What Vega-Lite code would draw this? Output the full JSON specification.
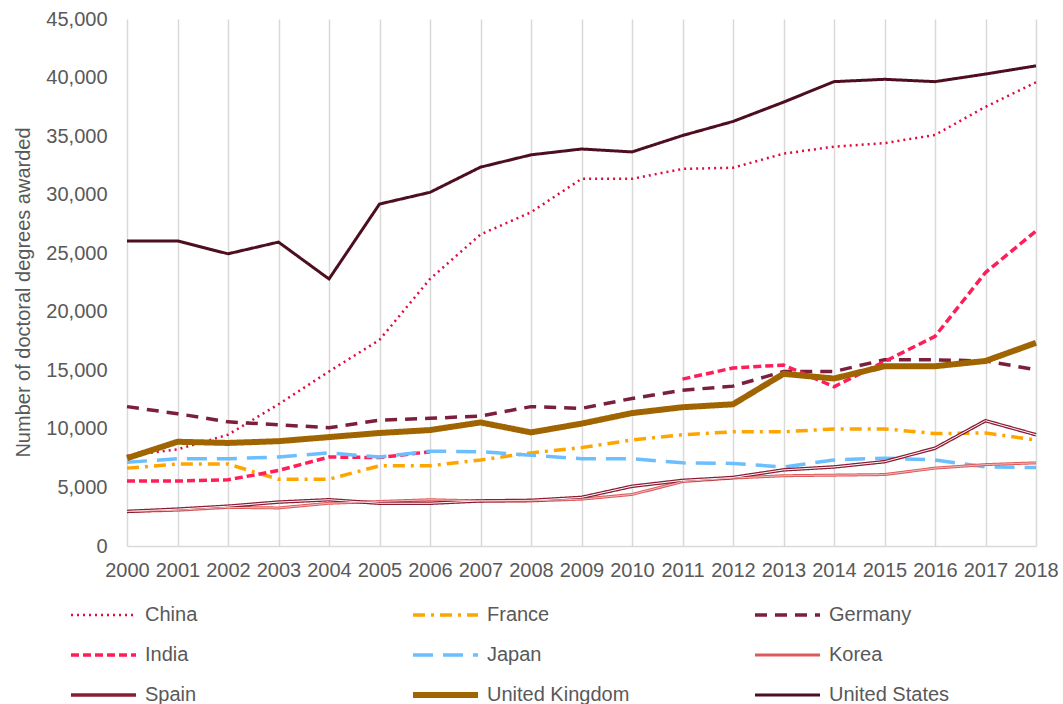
{
  "$schema": "https://vega.github.io/schema/vega-lite/v6.json",
  "autosize": {"type": "none"},
  "padding": {"left": 127, "top": 19, "right": 27, "bottom": 158},
  "width": 909,
  "height": 527,
  "background": "white",
  "config": {"font": "Liberation Sans", "view": {"stroke": null}},
  "data": {"values": [
    {"country": "China", "year": 2000, "doctorates": 7700},
    {"country": "China", "year": 2001, "doctorates": 8250},
    {"country": "China", "year": 2002, "doctorates": 9500},
    {"country": "China", "year": 2003, "doctorates": 12100},
    {"country": "China", "year": 2004, "doctorates": 14900},
    {"country": "China", "year": 2005, "doctorates": 17600},
    {"country": "China", "year": 2006, "doctorates": 22800},
    {"country": "China", "year": 2007, "doctorates": 26600},
    {"country": "China", "year": 2008, "doctorates": 28500},
    {"country": "China", "year": 2009, "doctorates": 31350},
    {"country": "China", "year": 2010, "doctorates": 31350},
    {"country": "China", "year": 2011, "doctorates": 32200},
    {"country": "China", "year": 2012, "doctorates": 32300},
    {"country": "China", "year": 2013, "doctorates": 33500},
    {"country": "China", "year": 2014, "doctorates": 34100},
    {"country": "China", "year": 2015, "doctorates": 34400},
    {"country": "China", "year": 2016, "doctorates": 35100},
    {"country": "China", "year": 2017, "doctorates": 37500},
    {"country": "China", "year": 2018, "doctorates": 39600},
    {"country": "France", "year": 2000, "doctorates": 6650},
    {"country": "France", "year": 2001, "doctorates": 7000},
    {"country": "France", "year": 2002, "doctorates": 7000},
    {"country": "France", "year": 2003, "doctorates": 5700},
    {"country": "France", "year": 2004, "doctorates": 5700},
    {"country": "France", "year": 2005, "doctorates": 6850},
    {"country": "France", "year": 2006, "doctorates": 6850},
    {"country": "France", "year": 2007, "doctorates": 7350},
    {"country": "France", "year": 2008, "doctorates": 7950},
    {"country": "France", "year": 2009, "doctorates": 8400},
    {"country": "France", "year": 2010, "doctorates": 9050},
    {"country": "France", "year": 2011, "doctorates": 9500},
    {"country": "France", "year": 2012, "doctorates": 9750},
    {"country": "France", "year": 2013, "doctorates": 9750},
    {"country": "France", "year": 2014, "doctorates": 10000},
    {"country": "France", "year": 2015, "doctorates": 10000},
    {"country": "France", "year": 2016, "doctorates": 9600},
    {"country": "France", "year": 2017, "doctorates": 9650},
    {"country": "France", "year": 2018, "doctorates": 9050},
    {"country": "Germany", "year": 2000, "doctorates": 11900},
    {"country": "Germany", "year": 2001, "doctorates": 11300},
    {"country": "Germany", "year": 2002, "doctorates": 10600},
    {"country": "Germany", "year": 2003, "doctorates": 10350},
    {"country": "Germany", "year": 2004, "doctorates": 10100},
    {"country": "Germany", "year": 2005, "doctorates": 10750},
    {"country": "Germany", "year": 2006, "doctorates": 10900},
    {"country": "Germany", "year": 2007, "doctorates": 11100},
    {"country": "Germany", "year": 2008, "doctorates": 11900},
    {"country": "Germany", "year": 2009, "doctorates": 11750},
    {"country": "Germany", "year": 2010, "doctorates": 12600},
    {"country": "Germany", "year": 2011, "doctorates": 13300},
    {"country": "Germany", "year": 2012, "doctorates": 13650},
    {"country": "Germany", "year": 2013, "doctorates": 14900},
    {"country": "Germany", "year": 2014, "doctorates": 14900},
    {"country": "Germany", "year": 2015, "doctorates": 15900},
    {"country": "Germany", "year": 2016, "doctorates": 15900},
    {"country": "Germany", "year": 2017, "doctorates": 15800},
    {"country": "Germany", "year": 2018, "doctorates": 15050},
    {"country": "India", "year": 2000, "doctorates": 5550},
    {"country": "India", "year": 2001, "doctorates": 5550},
    {"country": "India", "year": 2002, "doctorates": 5650},
    {"country": "India", "year": 2003, "doctorates": 6450},
    {"country": "India", "year": 2004, "doctorates": 7600},
    {"country": "India", "year": 2005, "doctorates": 7550},
    {"country": "India", "year": 2006, "doctorates": 8050},
    {"country": "India", "year": 2007, "doctorates": null},
    {"country": "India", "year": 2008, "doctorates": null},
    {"country": "India", "year": 2009, "doctorates": null},
    {"country": "India", "year": 2010, "doctorates": null},
    {"country": "India", "year": 2011, "doctorates": 14250},
    {"country": "India", "year": 2012, "doctorates": 15200},
    {"country": "India", "year": 2013, "doctorates": 15450},
    {"country": "India", "year": 2014, "doctorates": 13600},
    {"country": "India", "year": 2015, "doctorates": 15750},
    {"country": "India", "year": 2016, "doctorates": 17900},
    {"country": "India", "year": 2017, "doctorates": 23350},
    {"country": "India", "year": 2018, "doctorates": 26900},
    {"country": "Japan", "year": 2000, "doctorates": 7150},
    {"country": "Japan", "year": 2001, "doctorates": 7450},
    {"country": "Japan", "year": 2002, "doctorates": 7450},
    {"country": "Japan", "year": 2003, "doctorates": 7600},
    {"country": "Japan", "year": 2004, "doctorates": 7950},
    {"country": "Japan", "year": 2005, "doctorates": 7600},
    {"country": "Japan", "year": 2006, "doctorates": 8100},
    {"country": "Japan", "year": 2007, "doctorates": 8050},
    {"country": "Japan", "year": 2008, "doctorates": 7750},
    {"country": "Japan", "year": 2009, "doctorates": 7450},
    {"country": "Japan", "year": 2010, "doctorates": 7450},
    {"country": "Japan", "year": 2011, "doctorates": 7100},
    {"country": "Japan", "year": 2012, "doctorates": 7050},
    {"country": "Japan", "year": 2013, "doctorates": 6750},
    {"country": "Japan", "year": 2014, "doctorates": 7350},
    {"country": "Japan", "year": 2015, "doctorates": 7500},
    {"country": "Japan", "year": 2016, "doctorates": 7350},
    {"country": "Japan", "year": 2017, "doctorates": 6750},
    {"country": "Japan", "year": 2018, "doctorates": 6700},
    {"country": "Korea", "year": 2000, "doctorates": 2950},
    {"country": "Korea", "year": 2001, "doctorates": 3050},
    {"country": "Korea", "year": 2002, "doctorates": 3300},
    {"country": "Korea", "year": 2003, "doctorates": 3250},
    {"country": "Korea", "year": 2004, "doctorates": 3650},
    {"country": "Korea", "year": 2005, "doctorates": 3800},
    {"country": "Korea", "year": 2006, "doctorates": 3950},
    {"country": "Korea", "year": 2007, "doctorates": 3850},
    {"country": "Korea", "year": 2008, "doctorates": 3850},
    {"country": "Korea", "year": 2009, "doctorates": 4000},
    {"country": "Korea", "year": 2010, "doctorates": 4400},
    {"country": "Korea", "year": 2011, "doctorates": 5500},
    {"country": "Korea", "year": 2012, "doctorates": 5800},
    {"country": "Korea", "year": 2013, "doctorates": 6000},
    {"country": "Korea", "year": 2014, "doctorates": 6050},
    {"country": "Korea", "year": 2015, "doctorates": 6100},
    {"country": "Korea", "year": 2016, "doctorates": 6650},
    {"country": "Korea", "year": 2017, "doctorates": 6950},
    {"country": "Korea", "year": 2018, "doctorates": 7100},
    {"country": "Spain", "year": 2000, "doctorates": 2950},
    {"country": "Spain", "year": 2001, "doctorates": 3150},
    {"country": "Spain", "year": 2002, "doctorates": 3400},
    {"country": "Spain", "year": 2003, "doctorates": 3750},
    {"country": "Spain", "year": 2004, "doctorates": 3950},
    {"country": "Spain", "year": 2005, "doctorates": 3650},
    {"country": "Spain", "year": 2006, "doctorates": 3650},
    {"country": "Spain", "year": 2007, "doctorates": 3850},
    {"country": "Spain", "year": 2008, "doctorates": 3900},
    {"country": "Spain", "year": 2009, "doctorates": 4150},
    {"country": "Spain", "year": 2010, "doctorates": 5100},
    {"country": "Spain", "year": 2011, "doctorates": 5600},
    {"country": "Spain", "year": 2012, "doctorates": 5850},
    {"country": "Spain", "year": 2013, "doctorates": 6500},
    {"country": "Spain", "year": 2014, "doctorates": 6750},
    {"country": "Spain", "year": 2015, "doctorates": 7200},
    {"country": "Spain", "year": 2016, "doctorates": 8350},
    {"country": "Spain", "year": 2017, "doctorates": 10700},
    {"country": "Spain", "year": 2018, "doctorates": 9500},
    {"country": "United Kingdom", "year": 2000, "doctorates": 7500},
    {"country": "United Kingdom", "year": 2001, "doctorates": 8900},
    {"country": "United Kingdom", "year": 2002, "doctorates": 8800},
    {"country": "United Kingdom", "year": 2003, "doctorates": 8950},
    {"country": "United Kingdom", "year": 2004, "doctorates": 9300},
    {"country": "United Kingdom", "year": 2005, "doctorates": 9650},
    {"country": "United Kingdom", "year": 2006, "doctorates": 9900},
    {"country": "United Kingdom", "year": 2007, "doctorates": 10550},
    {"country": "United Kingdom", "year": 2008, "doctorates": 9700},
    {"country": "United Kingdom", "year": 2009, "doctorates": 10450},
    {"country": "United Kingdom", "year": 2010, "doctorates": 11350},
    {"country": "United Kingdom", "year": 2011, "doctorates": 11850},
    {"country": "United Kingdom", "year": 2012, "doctorates": 12100},
    {"country": "United Kingdom", "year": 2013, "doctorates": 14700},
    {"country": "United Kingdom", "year": 2014, "doctorates": 14300},
    {"country": "United Kingdom", "year": 2015, "doctorates": 15350},
    {"country": "United Kingdom", "year": 2016, "doctorates": 15350},
    {"country": "United Kingdom", "year": 2017, "doctorates": 15800},
    {"country": "United Kingdom", "year": 2018, "doctorates": 17350},
    {"country": "United States", "year": 2000, "doctorates": 26050},
    {"country": "United States", "year": 2001, "doctorates": 26050},
    {"country": "United States", "year": 2002, "doctorates": 24950},
    {"country": "United States", "year": 2003, "doctorates": 25950},
    {"country": "United States", "year": 2004, "doctorates": 22800},
    {"country": "United States", "year": 2005, "doctorates": 29200},
    {"country": "United States", "year": 2006, "doctorates": 30200},
    {"country": "United States", "year": 2007, "doctorates": 32350},
    {"country": "United States", "year": 2008, "doctorates": 33400},
    {"country": "United States", "year": 2009, "doctorates": 33900},
    {"country": "United States", "year": 2010, "doctorates": 33650},
    {"country": "United States", "year": 2011, "doctorates": 35050},
    {"country": "United States", "year": 2012, "doctorates": 36250},
    {"country": "United States", "year": 2013, "doctorates": 37900},
    {"country": "United States", "year": 2014, "doctorates": 39650},
    {"country": "United States", "year": 2015, "doctorates": 39850},
    {"country": "United States", "year": 2016, "doctorates": 39650},
    {"country": "United States", "year": 2017, "doctorates": 40300},
    {"country": "United States", "year": 2018, "doctorates": 41000}
  ]},
  "encoding": {
    "x": {
      "field": "year", "type": "ordinal",
      "scale": {"type": "point", "padding": 0},
      "axis": {
        "title": null, "labelAngle": 0, "grid": true, "gridColor": "#D9D9D9", "gridWidth": 1.5,
        "ticks": false, "domainColor": "#D9D9D9", "domainWidth": 1.5,
        "labelFontSize": 20, "labelColor": "#595959", "labelPadding": 14
      }
    },
    "y": {
      "field": "doctorates", "type": "quantitative",
      "scale": {"domain": [0, 45000], "nice": false},
      "axis": {
        "title": "Number of doctoral degrees awarded",
        "values": [0, 5000, 10000, 15000, 20000, 25000, 30000, 35000, 40000, 45000],
        "format": ",.0f", "grid": false, "ticks": false, "domain": false,
        "labelFontSize": 20, "labelColor": "#595959", "labelPadding": 20,
        "titleFontSize": 20, "titleFontWeight": "normal", "titleColor": "#595959", "titlePadding": 12,
        "titleY": 273
      }
    }
  },
  "layer": [
    {
      "mark": {"type": "line", "invalid": "break-paths-show-domains"},
      "encoding": {
        "color": {
          "field": "country", "type": "nominal",
          "scale": {
            "domain": ["China", "France", "Germany", "India", "Japan", "Korea", "Spain", "United Kingdom", "United States"],
            "range": ["#E00A3E", "#FFA500", "#7B1F3C", "#FF1E5A", "#6CBFFF", "#DD5A5A", "#8C1C33", "#A06500", "#4D0F1F"]
          },
          "legend": {
            "title": null, "orient": "none", "direction": "horizontal", "legendX": -59, "legendY": 585,
            "columns": 3, "gridAlign": "all", "columnPadding": 122, "rowPadding": 18, "clipHeight": 22,
            "symbolType": "stroke", "symbolSize": 4225, "labelFontSize": 20,
            "labelColor": "#595959", "labelOffset": 6
          }
        },
        "strokeDash": {
          "field": "country", "type": "nominal",
          "scale": {
            "domain": ["China", "France", "Germany", "India", "Japan", "Korea", "Spain", "United Kingdom", "United States"],
            "range": [[2, 4], [12, 6, 3, 6], [12, 8], [8, 4], [20, 10], [1, 0], [1, 0], [1, 0], [1, 0]]
          }
        },
        "strokeWidth": {
          "field": "country", "type": "nominal",
          "scale": {
            "type": "ordinal",
            "domain": ["China", "France", "Germany", "India", "Japan", "Korea", "Spain", "United Kingdom", "United States"],
            "range": [2.5, 3.5, 3.5, 3.5, 3.5, 3, 3.5, 6, 3]
          }
        }
      }
    },
    {
      "transform": [{"filter": "datum.country === 'Spain'"}],
      "mark": {"type": "line", "color": "#FFFFFF", "strokeWidth": 1}
    },
    {
      "transform": [{"filter": "datum.country === 'Korea'"}],
      "mark": {"type": "line", "color": "#F4B8B8", "strokeWidth": 1}
    }
  ]
}
